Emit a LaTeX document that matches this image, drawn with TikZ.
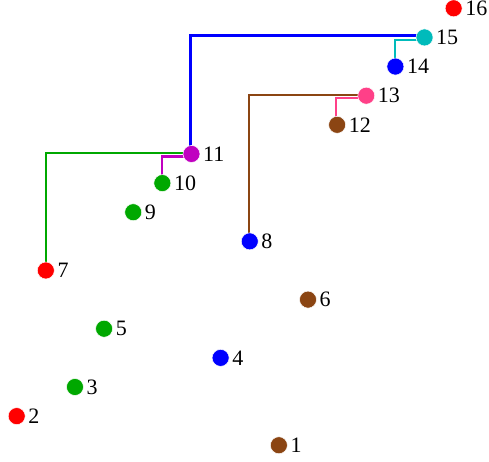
\documentclass[tikz,border=0pt]{standalone}
\usepackage{fontspec}
\setmainfont{Liberation Serif}
\usetikzlibrary{backgrounds}
\definecolor{cred}{HTML}{FF0000}
\definecolor{cblue}{HTML}{0000FF}
\definecolor{cgreen}{HTML}{00A800}
\definecolor{cbrown}{HTML}{8B4513}
\definecolor{cpink}{HTML}{FF4088}
\definecolor{cmag}{HTML}{C000C0}
\definecolor{cteal}{HTML}{00BBBB}
\begin{document}
\begin{tikzpicture}[x=1pt,y=-1pt,
  dot/.style={circle,fill=#1,draw=white,line width=0.5pt,inner sep=0pt,minimum size=17pt},
  lab/.style={anchor=west,inner sep=0pt,text=black,font=\fontsize{22}{22}\selectfont},
  conn/.style={line width=2.2pt,draw=#1}]
\useasboundingbox (0,0) rectangle (489,461);
\def\u{29.13}
% n: label, k: column index, colour
\foreach \n/\k/\c in {1/9/cbrown,2/0/cred,3/2/cgreen,4/7/cblue,5/3/cgreen,6/10/cbrown,
  7/1/cred,8/8/cblue,9/4/cgreen,10/5/cgreen,11/6/cmag,12/11/cbrown,13/12/cpink,
  14/13/cblue,15/14/cteal,16/15/cred}{
  \node[dot=\c] (n\n) at ({16.7+\u*\k},{8.3+\u*(16-\n)}) {};
  \node[lab] (l\n) at ([xshift=11.5pt]n\n.center) {\n};
}
\begin{scope}[on background layer]
  \draw[conn=cblue]  ([xshift=-1pt]n11.center) |- ([yshift=2pt]n15.center);
  \draw[conn=cteal]  (n14.center) |- ([yshift=-2.5pt]n15.center);
  \draw[conn=cbrown] ([xshift=-0.5pt]n8.center) |- ([yshift=1pt]n13.center);
  \draw[conn=cpink]  ([xshift=-1pt]n12.center) |- ([yshift=-2.5pt]n13.center);
  \draw[conn=cgreen] (n7.center) |- ([yshift=1.3pt]n11.center);
  \draw[conn=cmag]   (n10.center) |- ([yshift=-2.5pt]n11.center);
\end{scope}
\end{tikzpicture}
\end{document}
